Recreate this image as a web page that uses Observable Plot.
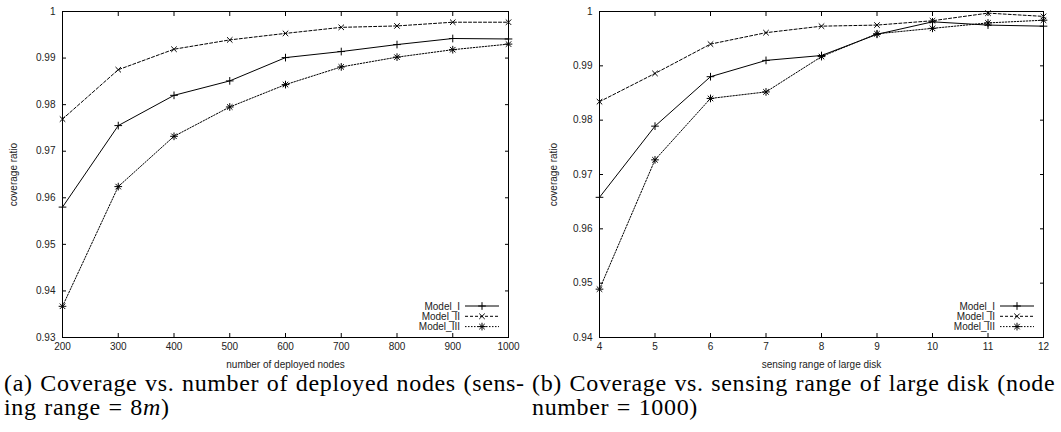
<!DOCTYPE html>
<html><head><meta charset="utf-8">
<script src="https://cdn.jsdelivr.net/npm/d3@7"></script>
<script src="https://cdn.jsdelivr.net/npm/@observablehq/plot@0.6"></script>
<style>
body{margin:0;width:1061px;height:432px;overflow:hidden;background:#fff;position:relative;}
#a,#b{position:absolute;top:0;}
#a{left:0} #b{left:530px}
.cap{position:absolute;font-family:"Liberation Serif","DejaVu Serif",serif;font-size:24px;letter-spacing:0.65px;word-spacing:1px;white-space:nowrap;line-height:24px;color:#000}
</style></head><body>
<div id="a"></div><div id="b"></div>
<div class="cap" style="left:4px;top:371px">(a) Coverage vs. number of deployed nodes (sens-<br>ing range = 8<i>m</i>)</div>
<div class="cap" style="left:532px;top:371px">(b) Coverage vs. sensing range of large disk (node<br>number = 1000)</div>
<script>
// ---- Chart (a): coverage vs number of deployed nodes ----
const nodes = [200, 300, 400, 500, 600, 700, 800, 900, 1000];
const nodesModelI   = [0.9580, 0.9755, 0.9820, 0.9851, 0.9901, 0.9914, 0.9929, 0.9942, 0.9941];
const nodesModelII  = [0.9769, 0.9875, 0.9919, 0.9939, 0.9953, 0.9966, 0.9969, 0.9977, 0.9977];
const nodesModelIII = [0.9367, 0.9624, 0.9732, 0.9795, 0.9843, 0.9881, 0.9902, 0.9918, 0.9930];
const nodesYTicks = [0.93, 0.94, 0.95, 0.96, 0.97, 0.98, 0.99, 1];

// ---- Chart (b): coverage vs sensing range of large disk ----
const ranges = [4, 5, 6, 7, 8, 9, 10, 11, 12];
const rangeModelI   = [0.9658, 0.9789, 0.9880, 0.9910, 0.9919, 0.9958, 0.9981, 0.9975, 0.9973];
const rangeModelII  = [0.9834, 0.9886, 0.9940, 0.9961, 0.9973, 0.9975, 0.9983, 0.9997, 0.9991];
const rangeModelIII = [0.9489, 0.9727, 0.9840, 0.9852, 0.9917, 0.9959, 0.9969, 0.9979, 0.9984];
const rangeYTicks = [0.94, 0.95, 0.96, 0.97, 0.98, 0.99, 1];

const modelNames = ["Model_I", "Model_II", "Model_III"];
const styles = {
  "Model_I":   {dash: null,      symbols: ["plus"]},
  "Model_II":  {dash: "3,2",     symbols: ["times"]},
  "Model_III": {dash: "1.5,1.5", symbols: ["plus", "times"]}
};

const fmt = d => String(+(+d).toFixed(2));

function chart({xs, values, yDomain, yTicks, xLabel, width, marginLeft, marginRight, yLabelOffset}) {
  const rows = modelNames.flatMap((m, k) => xs.map((x, i) => ({model: m, x, y: values[k][i]})));
  const marks = [];
  for (const m of modelNames) {
    const d = rows.filter(r => r.model === m);
    marks.push(Plot.line(d, {x: "x", y: "y", stroke: "#000", strokeWidth: 1, strokeDasharray: styles[m].dash}));
    for (const s of styles[m].symbols) {
      marks.push(Plot.dot(d, {x: "x", y: "y", symbol: s, r: 2.6, stroke: "#000", strokeWidth: 1}));
    }
  }
  // legend inside bottom-right
  marks.push((index, scales, values_, dims) => {
    const g = d3.create("svg:g");
    const right = dims.width - dims.marginRight;
    const bottom = dims.height - dims.marginBottom;
    modelNames.forEach((m, i) => {
      const cy = bottom - 31 + i * 10.3;
      g.append("text").attr("x", right - 48).attr("y", cy).attr("dy", "0.35em")
        .attr("text-anchor", "end").attr("fill", "#222").text(m);
      g.append("line").attr("x1", right - 43).attr("x2", right - 9).attr("y1", cy).attr("y2", cy)
        .attr("stroke", "#000").attr("stroke-width", 1).attr("stroke-dasharray", styles[m].dash);
      const mx = right - 26;
      for (const s of styles[m].symbols) {
        const sym = s === "plus" ? d3.symbolPlus : d3.symbolTimes;
        g.append("path").attr("transform", `translate(${mx},${cy})`)
          .attr("d", d3.symbol(sym, 2.6 * 2.6 * Math.PI)())
          .attr("fill", "none").attr("stroke", "#000").attr("stroke-width", 1);
      }
    });
    return g.node();
  });
  return Plot.plot({
    width, height: 372,
    marginLeft, marginRight, marginTop: 11, marginBottom: 35,
    style: {fontFamily: "'Liberation Sans', Arial, sans-serif", fontSize: "10px", background: "#fff"},
    x: {domain: [xs[0], xs[xs.length - 1]]},
    y: {domain: yDomain},
    marks: [
      ...marks,
      Plot.frame({stroke: "#000", strokeWidth: 1}),
      Plot.axisX({ticks: xs, tickSize: -4, tickFormat: () => "", label: null}),
      Plot.axisX({anchor: "top", ticks: xs, tickSize: -4, tickFormat: () => "", label: null}),
      Plot.axisX({ticks: xs, tickSize: 0, tickPadding: 5, tickFormat: d => String(d), fill: "#222",
        label: xLabel, labelAnchor: "center", labelOffset: 30, labelArrow: "none"}),
      Plot.axisY({ticks: yTicks, tickSize: -4, tickFormat: () => "", label: null}),
      Plot.axisY({anchor: "right", ticks: yTicks, tickSize: -4, tickFormat: () => "", label: null}),
      Plot.axisY({ticks: yTicks, tickSize: 0, tickPadding: 7, tickFormat: fmt, fill: "#222",
        label: "coverage ratio", labelAnchor: "center", labelOffset: yLabelOffset, labelArrow: "none"})
    ]
  });
}

document.getElementById("a").append(chart({
  xs: nodes, values: [nodesModelI, nodesModelII, nodesModelIII],
  yDomain: [0.93, 1], yTicks: nodesYTicks, xLabel: "number of deployed nodes",
  width: 530, marginLeft: 62, marginRight: 22, yLabelOffset: 53
}));
document.getElementById("b").append(chart({
  xs: ranges, values: [rangeModelI, rangeModelII, rangeModelIII],
  yDomain: [0.94, 1], yTicks: rangeYTicks, xLabel: "sensing range of large disk",
  width: 531, marginLeft: 69, marginRight: 18, yLabelOffset: 50
}));
</script>
</body></html>
